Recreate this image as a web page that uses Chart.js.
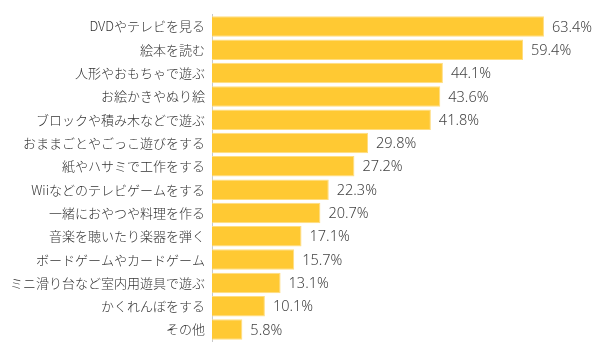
<!DOCTYPE html>
<html>
<head>
<meta charset="utf-8">
<script src="https://cdn.jsdelivr.net/npm/chart.js"></script>
<style>
html,body{margin:0;padding:0;background:#fff;}
#wrap{width:604px;height:356px;position:relative;}
</style>
</head>
<body>
<div id="wrap"><canvas id="c" width="604" height="356"></canvas></div>
<script>
const categories = [
  "DVDやテレビを見る",
  "絵本を読む",
  "人形やおもちゃで遊ぶ",
  "お絵かきやぬり絵",
  "ブロックや積み木などで遊ぶ",
  "おままごとやごっこ遊びをする",
  "紙やハサミで工作をする",
  "Wiiなどのテレビゲームをする",
  "一緒におやつや料理を作る",
  "音楽を聴いたり楽器を弾く",
  "ボードゲームやカードゲーム",
  "ミニ滑り台など室内用遊具で遊ぶ",
  "かくれんぼをする",
  "その他"
];
const values = [63.4, 59.4, 44.1, 43.6, 41.8, 29.8, 27.2, 22.3, 20.7, 17.1, 15.7, 13.1, 10.1, 5.8];

const valueLabels = {
  id: 'valueLabels',
  afterDatasetsDraw(chart) {
    const ctx = chart.ctx;
    const meta = chart.getDatasetMeta(0);
    ctx.save();
    ctx.font = '300 14.5px "Noto Sans", sans-serif';
    ctx.fillStyle = '#444';
    ctx.textAlign = 'left';
    ctx.textBaseline = 'middle';
    meta.data.forEach((bar, i) => {
      ctx.fillText(values[i].toFixed(1) + '%', bar.x + 8, bar.y + 1);
    });
    ctx.restore();
  }
};

new Chart(document.getElementById('c'), {
  type: 'bar',
  data: {
    labels: categories,
    datasets: [{
      data: values,
      backgroundColor: '#FFC933',
      borderColor: '#FFDD80',
      borderWidth: 1,
      borderSkipped: 'left',
      barPercentage: 0.88,
      categoryPercentage: 1.0
    }]
  },
  options: {
    indexAxis: 'y',
    responsive: false,
    animation: false,
    devicePixelRatio: 1,
    layout: { padding: { left: 0, right: 15, top: 11, bottom: 11 } },
    plugins: { legend: { display: false }, tooltip: { enabled: false } },
    scales: {
      x: {
        display: false,
        min: 0,
        max: 72
      },
      y: {
        afterFit(scale) { scale.width = 212; },
        grid: { display: false, drawTicks: false },
        border: { display: true, color: '#c8c8c8', width: 1 },
        ticks: {
          color: '#333',
          padding: 7,
          font: { family: '"Noto Sans CJK JP", sans-serif', size: 13, weight: '300' }
        }
      }
    }
  },
  plugins: [valueLabels]
});
</script>
</body>
</html>
